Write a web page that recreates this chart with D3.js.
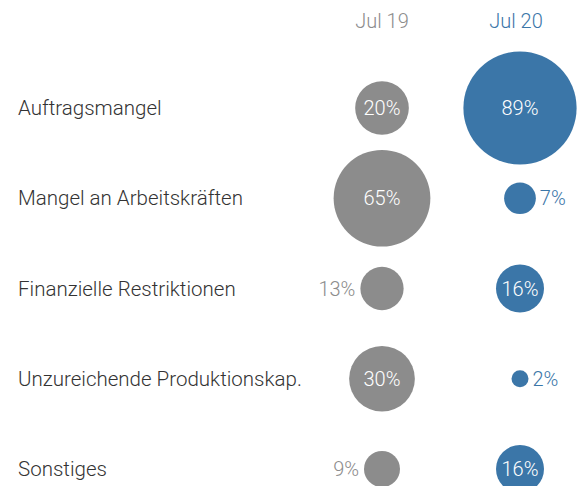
<!DOCTYPE html>
<html>
<head>
<meta charset="utf-8">
<script src="https://cdn.jsdelivr.net/npm/d3@7"></script>
<style>
  body { margin: 0; background: #fff; }
  text { font-family: "Roboto", "Liberation Sans", sans-serif; font-weight: 300; }
</style>
</head>
<body>
<script>
// categories (rows) and the two survey waves (columns)
var categories = ["Auftragsmangel", "Mangel an Arbeitskräften", "Finanzielle Restriktionen",
                  "Unzureichende Produktionskap.", "Sonstiges"];
var periods = ["Jul 19", "Jul 20"];
var jul19 = [20, 65, 13, 30, 9];
var jul20 = [89, 7, 16, 2, 16];

var width = 577, height = 486;
var grey = "#8c8c8c", blue = "#3b76a8";

var svg = d3.select("body").append("svg")
    .attr("width", width)
    .attr("height", height);

// row positions
var y = d3.scalePoint()
    .domain(categories)
    .range([108, 469]);

// column positions
var x = d3.scaleOrdinal()
    .domain(periods)
    .range([382, 520]);

var colour = d3.scaleOrdinal()
    .domain(periods)
    .range([grey, blue]);

// area proportional circles
var r = d3.scaleSqrt()
    .domain([0, 89])
    .range([0, 56.6]);

// column headers
svg.append("g").selectAll("text")
    .data(periods)
    .enter().append("text")
    .attr("x", function(d, i){ return x(d) - (i == 1 ? 4 : 0); })
    .attr("y", 28)
    .attr("text-anchor", "middle")
    .style("font-size", "20px")
    .style("fill", function(d){ return colour(d); })
    .text(function(d){ return d; });

// category labels
svg.append("g").selectAll("text")
    .data(categories)
    .enter().append("text")
    .attr("x", 18)
    .attr("y", function(d){ return y(d); })
    .attr("dy", "0.35em")
    .style("font-size", "20.5px")
    .style("fill", "#333")
    .text(function(d){ return d; });

var cells = [];
categories.forEach(function(c, i){
    cells.push({cat: c, period: periods[0], v: jul19[i]});
    cells.push({cat: c, period: periods[1], v: jul20[i]});
});

var g = svg.append("g").selectAll("g")
    .data(cells)
    .enter().append("g")
    .attr("transform", function(d){ return "translate(" + x(d.period) + "," + y(d.cat) + ")"; });

g.append("circle")
    .attr("r", function(d){ return r(d.v); })
    .style("fill", function(d){ return colour(d.period); });

// labels inside big circles, beside small ones
g.append("text")
    .attr("x", function(d){
        if (d.v >= 16) return 0;
        return d.period == periods[0] ? -r(d.v) - 5 : r(d.v) + 4;
    })
    .attr("dy", "0.35em")
    .attr("text-anchor", function(d){
        if (d.v >= 16) return "middle";
        return d.period == periods[0] ? "end" : "start";
    })
    .style("font-size", "20px")
    .style("fill", function(d){ return d.v >= 16 ? "#fff" : colour(d.period); })
    .text(function(d){ return d.v + "%"; });
</script>
</body>
</html>
